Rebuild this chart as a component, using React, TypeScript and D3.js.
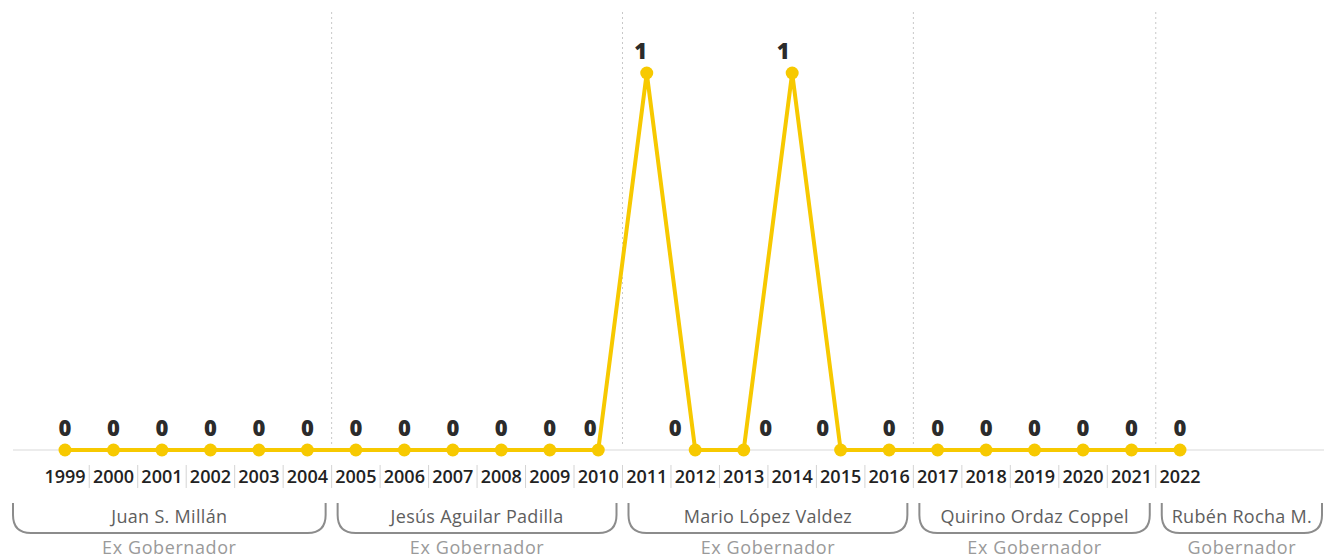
import React, { useRef, useEffect } from 'react';
import { select, scalePoint, scaleLinear, line } from 'd3';

const years = [
  '1999', '2000', '2001', '2002', '2003', '2004', '2005', '2006', '2007', '2008', '2009', '2010',
  '2011', '2012', '2013', '2014', '2015', '2016', '2017', '2018', '2019', '2020', '2021', '2022',
];
const values = [0, 0, 0, 0, 0, 0, 0, 0, 0, 0, 0, 0, 1, 0, 0, 1, 0, 0, 0, 0, 0, 0, 0, 0];

const governors = ['Juan S. Millán', 'Jesús Aguilar Padilla', 'Mario López Valdez', 'Quirino Ordaz Coppel', 'Rubén Rocha M.'];
const roles = ['Ex Gobernador', 'Ex Gobernador', 'Ex Gobernador', 'Ex Gobernador', 'Gobernador'];
const termStart = ['1999', '2005', '2011', '2017', '2022'];

// label nudges so the numbers clear the steep segments
const labelNudge: Record<string, number> = { '2010': -8, '2011': -6, '2012': -20, '2013': 22, '2014': -9, '2015': -18 };

const dim = { width: 1324, height: 560, left: 65, right: 1180, base: 450, top: 73 };
const YELLOW = '#f7c900';
const FONT = '"Open Sans", "Noto Sans", sans-serif';

const App = () => {
  const svgRef = useRef(null);

  useEffect(() => {
    const svg = select(svgRef.current);
    svg.selectAll('*').remove();

    const x = scalePoint<string>().domain(years).range([dim.left, dim.right]);
    const y = scaleLinear().domain([0, 1]).range([dim.base, dim.top]);
    const step = x.step();

    // baseline
    svg.append('line')
      .attr('x1', 13).attr('x2', dim.width)
      .attr('y1', dim.base).attr('y2', dim.base)
      .attr('stroke', '#e6e6e6').attr('stroke-width', 1.5);

    // dotted separators between terms
    const dividers = termStart.slice(1).map((s) => (x(s) as number) - step / 2);
    svg.append('g').selectAll('line')
      .data(dividers)
      .join('line')
      .attr('x1', (d) => d).attr('x2', (d) => d)
      .attr('y1', 12).attr('y2', dim.base - 3)
      .attr('stroke', '#c8c8c8').attr('stroke-width', 1)
      .attr('stroke-dasharray', '2,3');

    // year tick separators
    svg.append('g').selectAll('line')
      .data(years.slice(1))
      .join('line')
      .attr('x1', (d) => (x(d) as number) - step / 2)
      .attr('x2', (d) => (x(d) as number) - step / 2)
      .attr('y1', 465).attr('y2', 488)
      .attr('stroke', '#d4d4d4').attr('stroke-width', 1);

    // year labels
    svg.append('g').selectAll('text')
      .data(years)
      .join('text')
      .attr('x', (d) => x(d) as number)
      .attr('y', 477)
      .attr('dy', '0.35em')
      .attr('text-anchor', 'middle')
      .attr('font-family', FONT)
      .attr('font-weight', 600)
      .attr('font-size', 18)
      .attr('fill', '#222')
      .text((d) => d);

    // line
    const path = line<number>()
      .x((_, i) => x(years[i]) as number)
      .y((d) => y(d));
    svg.append('path')
      .datum(values)
      .attr('d', path)
      .attr('fill', 'none')
      .attr('stroke', YELLOW)
      .attr('stroke-width', 4)
      .attr('stroke-linejoin', 'round');

    svg.append('g').selectAll('circle')
      .data(values)
      .join('circle')
      .attr('cx', (_, i) => x(years[i]) as number)
      .attr('cy', (d) => y(d))
      .attr('r', 6.5)
      .attr('fill', YELLOW);

    // value labels
    svg.append('g').selectAll('text')
      .data(values)
      .join('text')
      .attr('x', (_, i) => (x(years[i]) as number) + (labelNudge[years[i]] || 0))
      .attr('y', (d) => y(d) - 22)
      .attr('dy', '0.35em')
      .attr('text-anchor', 'middle')
      .attr('font-family', FONT)
      .attr('font-weight', 800)
      .attr('font-size', 22)
      .attr('fill', '#2b2b2b')
      .text((d) => d);

    // governor brackets
    const terms = governors.map((name, i) => {
      const x0 = i === 0 ? 13 : dividers[i - 1] + 6;
      const x1 = i === governors.length - 1 ? dim.width - 2 : dividers[i] - 6;
      return { name, role: roles[i], x0, x1 };
    });

    const top = 503;
    const bottom = 533;
    const r = 18;
    const g = svg.append('g');
    g.selectAll('path')
      .data(terms)
      .join('path')
      .attr('d', (t) =>
        `M${t.x0},${top} L${t.x0},${bottom - r} Q${t.x0},${bottom} ${t.x0 + r},${bottom} ` +
        `L${t.x1 - r},${bottom} Q${t.x1},${bottom} ${t.x1},${bottom - r} L${t.x1},${top}`)
      .attr('fill', 'none')
      .attr('stroke', '#8c8c8c')
      .attr('stroke-width', 2);

    g.selectAll('text.name')
      .data(terms)
      .join('text')
      .attr('class', 'name')
      .attr('x', (t) => (t.x0 + t.x1) / 2)
      .attr('y', 517)
      .attr('dy', '0.35em')
      .attr('text-anchor', 'middle')
      .attr('font-family', FONT)
      .attr('font-size', 18)
      .attr('letter-spacing', 0.3)
      .attr('fill', '#5e5e5e')
      .text((t) => t.name);

    g.selectAll('text.role')
      .data(terms)
      .join('text')
      .attr('class', 'role')
      .attr('x', (t) => (t.x0 + t.x1) / 2)
      .attr('y', 548)
      .attr('dy', '0.35em')
      .attr('text-anchor', 'middle')
      .attr('font-family', FONT)
      .attr('font-size', 18)
      .attr('letter-spacing', 0.6)
      .attr('fill', '#9a9a9a')
      .text((t) => t.role);
  }, []);

  return (
    <svg
      ref={svgRef}
      width={dim.width}
      height={dim.height}
      style={{ position: 'absolute', left: 0, top: 0, background: '#fff' }}
    />
  );
};

export default App;
